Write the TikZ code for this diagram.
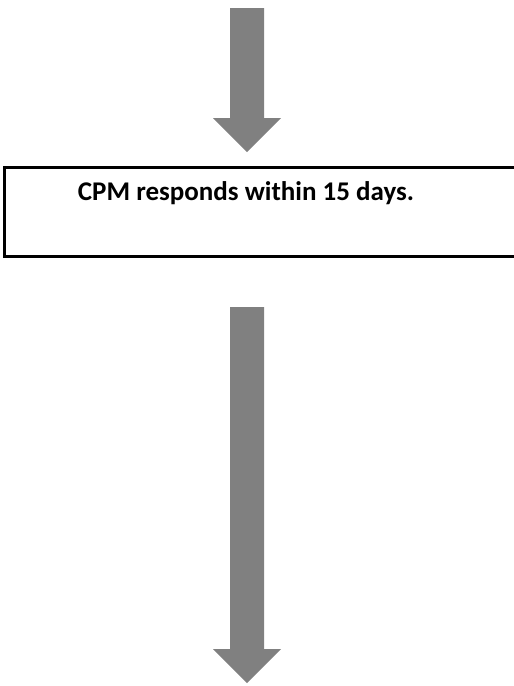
\documentclass[tikz,border=0pt]{standalone}
\usepackage{fontspec}
\setmainfont{Carlito}
\definecolor{arrowgray}{HTML}{808080}
\begin{document}
\begin{tikzpicture}[x=1pt,y=-1pt,
  bigarrow/.style={fill=arrowgray,draw=none},
  boxline/.style={draw=black,line width=2.4pt}]
\useasboundingbox (0,0) rectangle (514,686);
\clip (0,0) rectangle (514,686);
% top arrow
\fill[bigarrow] (230,8) -- (264,8) -- (264,118) -- (281,118) -- (247,152) -- (213,118) -- (230,118) -- cycle;
% box
\draw[boxline] (4.5,167.5) rectangle (530,256.5);
\node[font=\bfseries\fontsize{27}{32}\selectfont,anchor=base,inner sep=0pt] (t) at (246,200.5) {CPM responds within 15 days.};
% bottom arrow
\fill[bigarrow] (230,307) -- (264,307) -- (264,649) -- (281,649) -- (247,683) -- (213,649) -- (230,649) -- cycle;
\end{tikzpicture}
\end{document}
